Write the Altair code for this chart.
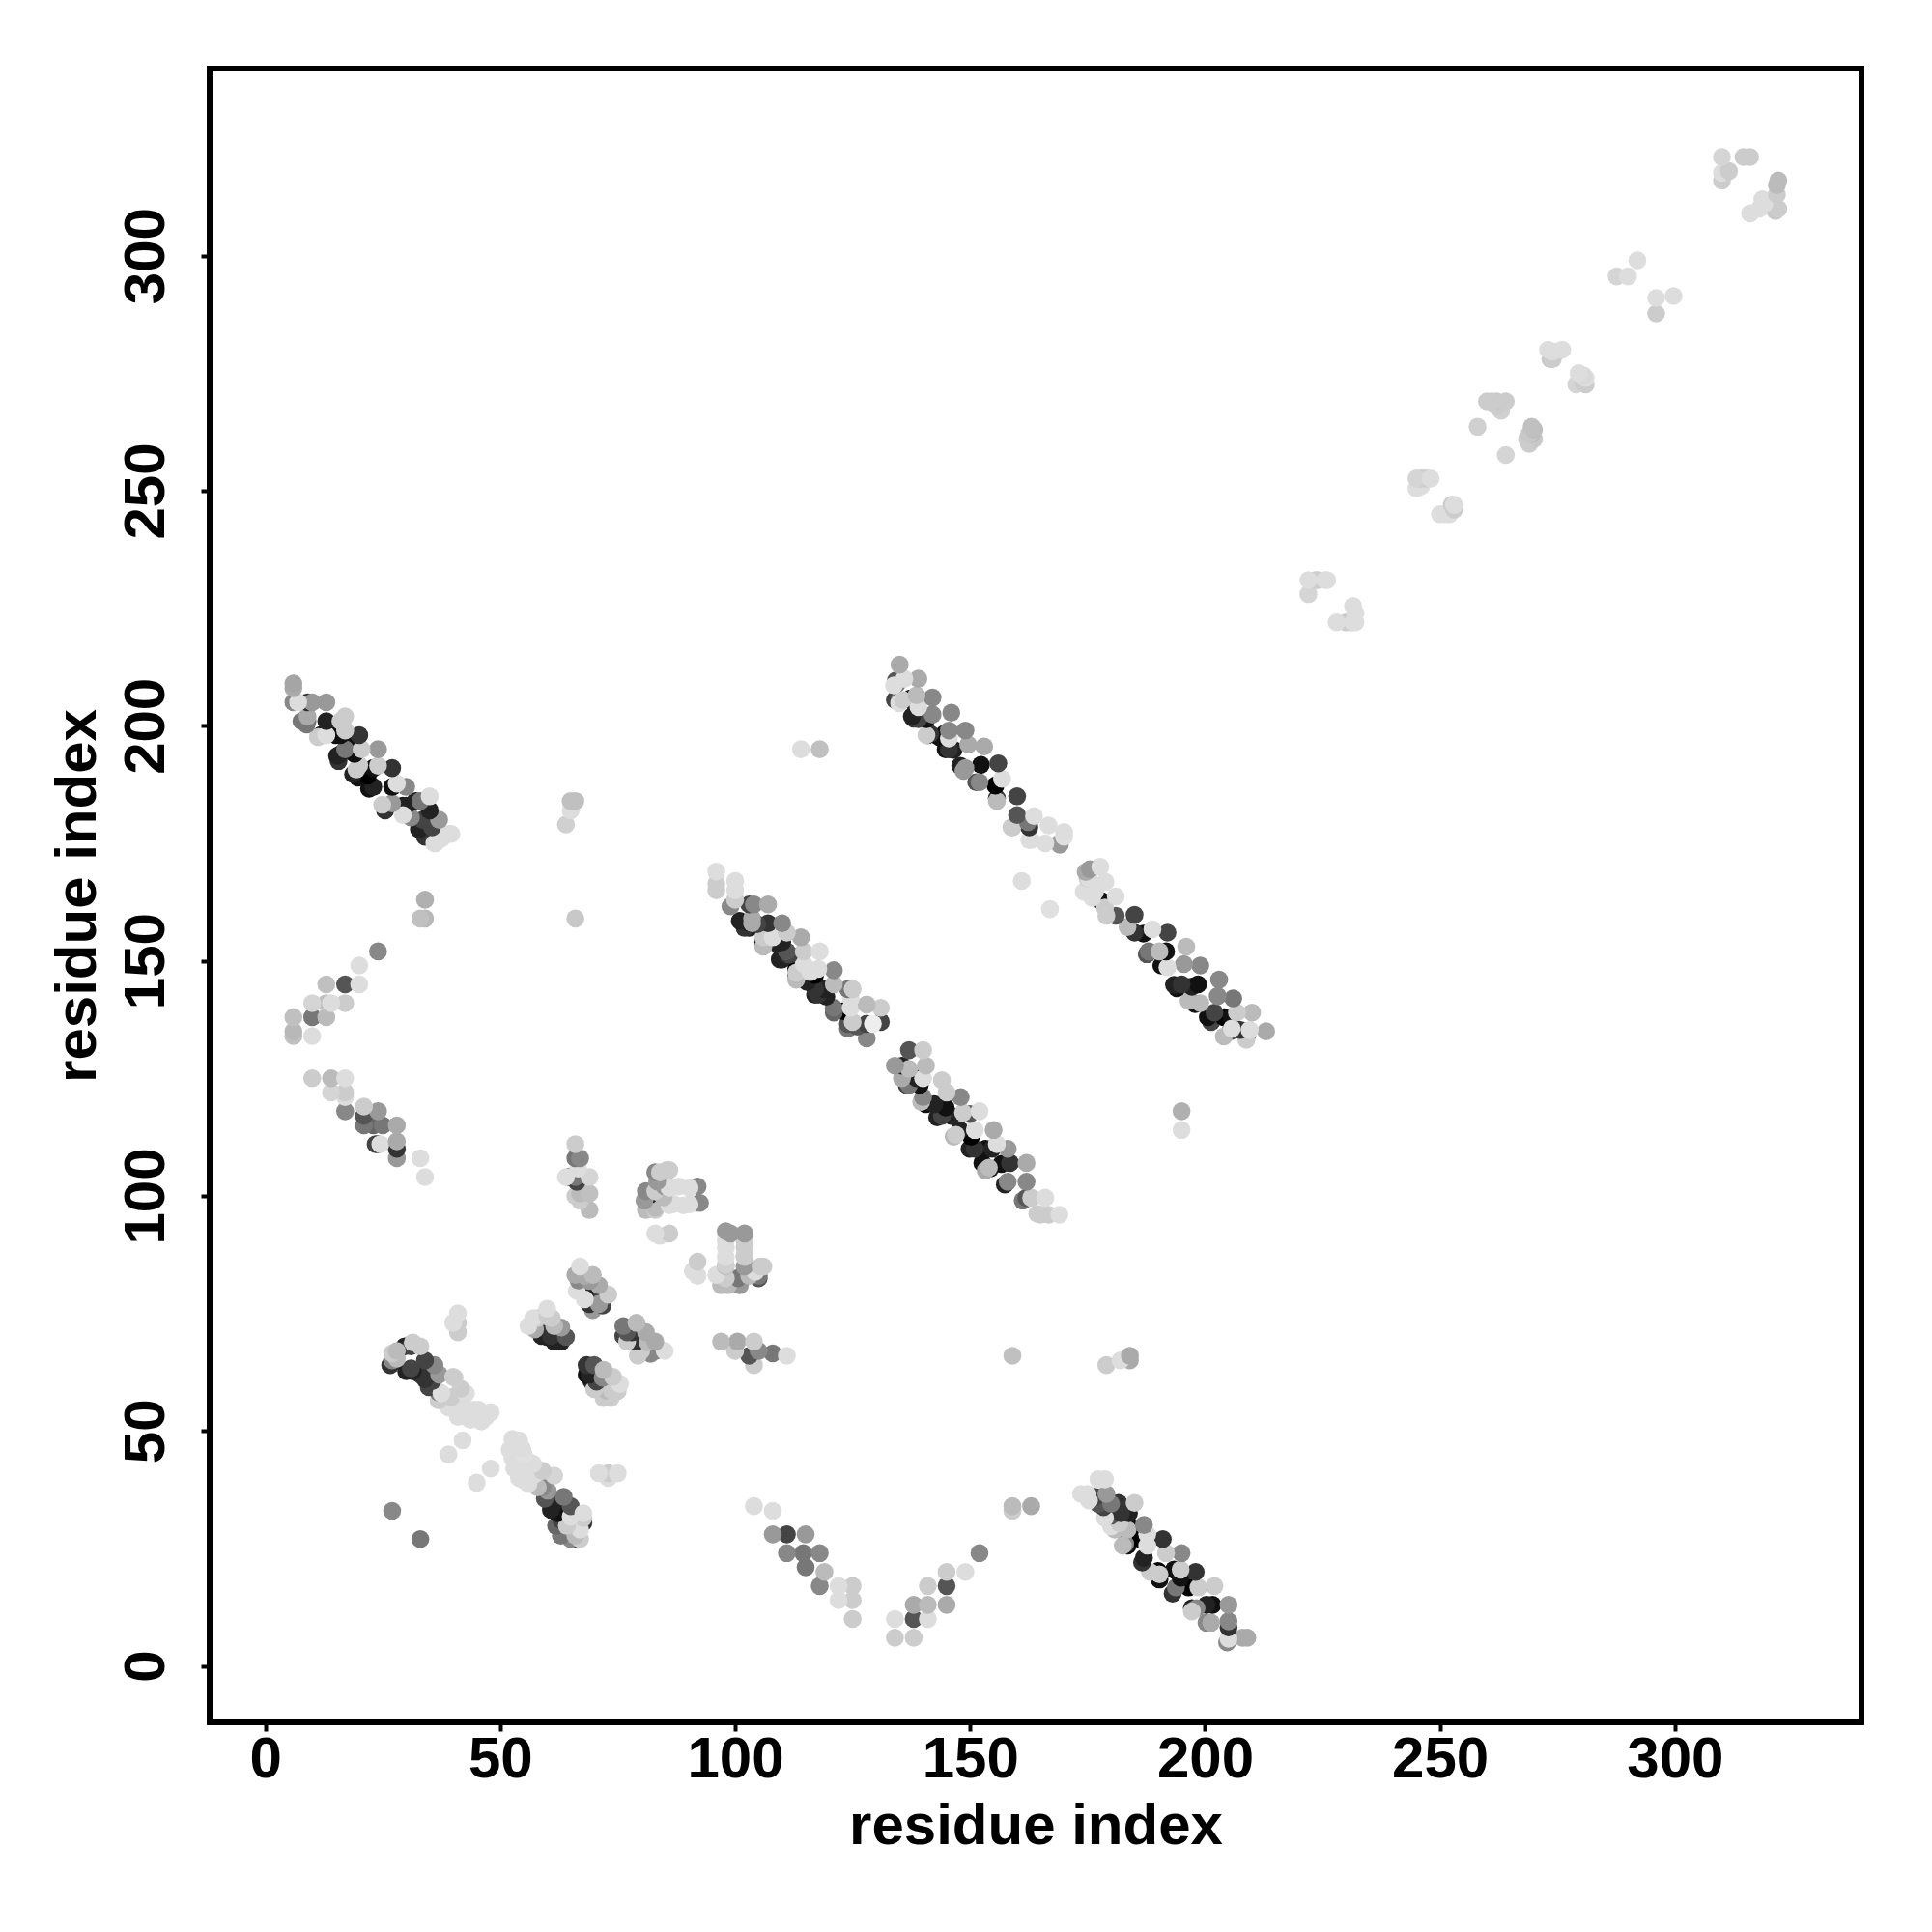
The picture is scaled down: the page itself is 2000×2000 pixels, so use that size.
import altair as alt
import pandas as pd

# (residue x, residue y, grey level 0-255), cluster by cluster
band_a = [(6,209,165),(6,208,170),(6,205,136),(7,205,221),(9,205,51),(10,205,153),(13,205,153),(9,201,119),(9,202,170),
          (13,201,34),(17,202,204),(16,201,204),(12,198,34),(13,198,221),(20,198,51),(16,198,17),(17,199,204),
          (16,194,34),(17,195,119),(19,194,17),(20.5,195,204),(24,195,153),(20,191,17),(20,191.6,204),(23,191,17),
          (24,191.5,204),(27,191,51),(23,187,34),(27,187,17),(28,187.7,221),(30,187,136),(26,183,51),(27,183.5,153),
          (30,183,34),(33,184,119),(35,185,221),(35,182,34),(37,180,153),(33.5,180,68),(39,177,221),(39.6,177,221),
          (37.5,176,221),(36,175,221),
          (7.7,201,119),(8.8,200.3,119),(11.2,197.6,204),(11.8,198,0),(15.3,193.6,34),(15.6,192.5,51),(15,198,17),
          (17.7,196,17),(18.7,189.7,34),(19.7,189,17),(19.4,190.7,204),(22.1,186.6,17),(21.8,189.4,0),(24.9,183.2,204),
          (25.5,182,51),(29.3,181,221),(29.3,183,17),(31,180.5,136),(32.7,178,34),(34,176.4,51),(35.5,178.4,68),
          (36.2,175,221),(32,184,34)]
band_b = [(10,125,204),(14,125,187),(17,125,221),(14,122,213),(17,122,204),(17,121,221),(17,118,136),(21,119,204),
          (21,117,85),(24,118,153),(21,115,119),(25,115,119),(28,115,170),(23,115,102),(24,111,68),(24.5,111,221),
          (28,111.6,170),(28,110,51),(28,108,153),(33,108,221),(34,104,221),(23.5,111,68)]
sparse_left = [(34,163,176),(33,159,192),(34,159,184),(66,159,200),(65,184,192),(66,184,192),(65,182,221),(64,179,208),
               (24,152,136),(20,149,221),(17,145,85),(20,145,221),(13,145,192),(17,141,204),(13,141,192),(14,141,221),
               (10,141,213),(10,138,119),(13,138,187),(6,138,192),(6,135,184),(6,134,192),(10,134,221)]
block_a = [(66,111,204),(67,108,136),(66,108,119),(64,104,221),(66,104,119),(69,104,213),(67,100.5,187),(69,100.5,192),
           (66,100,204),(69,97,187),(64.6,104,51),(66.3,103,68),(66.6,105.8,221),(67,99,204)]
block_b = [(85.5,105.5,204),(86,105.5,204),(83,105,136),(84,105,204),(81,101,136),(85,102,153),(88,102,221),(92,102,136),
           (83,101,204),(92.5,98.5,136),(81,97,187),(83,97.5,187),(86,98,221),(89,98,221),(83,97,204),
           (83,92,221),(84,91.5,221),(86,92,204),(82,100.3,34),(83.4,103.1,153),(84.8,99.7,187),(86,101.7,221),
           (86.9,98.3,221),(90.3,101.7,221),(90.3,98.2,221),(80.7,99,153)]
block_c = [(92,86,204),(91,84,221),(92,83,221),(98,92.5,153),(99,92,153),(102,92,153),(98,89,221),(98,87,221),(98,85,192),
           (97,81,187),(98.5,81,187),(102,89,204),(102,87,204),(102,85,153),(101,81,153),(105,83,119),(106,85,204),
           (105.4,85,204),(103,83,187),(97,82.5,187),(98,85.3,208),(100.6,82.5,119),(100.6,81.2,153),(102,90.4,204),
           (98,90.4,221),(102,87.3,204),(103.3,84.2,187),(105,82.5,85),(96,83.2,221),(98,82.5,204),(104.3,83.9,221)]
block_d = [(67,85,221),(68,83,170),(66.7,82,136),(71,81,170),(73,79,204),(70.4,78,68),(71,77,153),(68,79,34),(68,78,221),
           (66,83.2,170),(66.3,79.8,221),(67.7,79.1,34),(69,77,51),(69.7,75.7,153),(71.8,76.7,68),(69,81.9,153),(69.7,83.2,187)]
block_e = [(57,74,221),(58,74,204),(60,76,221),(61,74,204),(63,72,153),(59,72.5,51),(64,70,85),(61.5,69,34),(60,70,34),(63,69,34),
           (56,72.3,221),(57.4,71.6,170),(58.8,70.2,34),(60.8,70.2,51),(61.5,72.3,187),(60.1,74.3,204)]
block_f = [(79,73,187),(77,71,85),(81,71,170),(83,69,170),(79,69,51),(80,67,204),(83,67,136),(85,67,221),(77,69,204),
           (76.2,72.3,119),(76.2,70.2,68),(78,71,51),(79.7,67.5,34),(81.4,68.8,187),(82,66.4,136),(79.3,66,204)]
block_g = [(70,64,85),(69,62,34),(72,63,187),(74,61.5,204),(75.5,60,221),(70.5,60.5,68),(72,57,204),(73.5,57,204),(75,58.5,204),
           (68.4,64,51),(68.4,62,17),(69.4,60.6,34),(71,60,51),(70,58.9,204),(71.8,61.3,136),(72.5,58.6,187),(73.8,58.6,204)]
block_h = [(97,69,187),(100.5,69,170),(100,67,204),(104,69,204),(105,67,136),(104,64,204),(108,66.5,119),(111,66,221),(103,66,85)]
band_c = [(27,65,136),(27,66.5,204),(28,67,187),(31,68,68),(33,68,204),(31,63.3,68),(34,65,68),(36,64,136),(37,62,153),
          (34,61,51),(40,61.5,204),(41.6,59,204),(42.7,58,221),(37.5,58,221),(39,55,221),(41,53,221),(44.4,54.5,221),
          (46,52,221),(48,54,221),(47,53,221),(42.7,53,221),(41,75,221),(41,73,204),(40,73,221),(41,71,204),
          (42,48,221),(39,45,221),(48,42,221),(45,39,221),
          (26.6,64,51),(29.7,68,34),(30,62.7,34),(31.4,62.7,34),(33,62,51),(34.8,59.3,68),(35.5,60.6,68),(36.9,58.2,119),
          (36.9,56.5,204),(38.6,55.8,221),(39.6,57.2,204),(40.6,54.5,221),(42.3,55.1,221),(43.7,52.4,221),(45.4,54.5,221),
          (46.4,52.7,221),(40.3,61.3,208),(28,65.4,187),(31.4,68.8,204)]
band_d = [(54,48,221),(52,46,221),(55,45,224),(53,42,221),(57,43,221),(55,39.5,221),(59,41.5,204),(61.5,40.5,213),
          (59,38,136),(63.5,36,119),(65,34,85),(61.5,34.5,34),(63,31,68),(67.7,32.5,221),(67.7,30.5,51),(67.7,31.5,204),
          (67,29,221),(65,27,136),(67,27,204),(65.5,27,51),(71,41,221),(73,40,221),(73,41,204),(75,41,221),
          (27,33,136),(33,27,119),(104,34,221),(108,33,221),
          (52.6,48.3,221),(54.7,46.2,221),(52.6,44.2,221),(54.7,42.1,221),(54,40,221),(56,38.7,221),(56,43.5,221),
          (57.4,40.8,221),(58,38,187),(60.1,37.3,153),(59.5,35.6,85),(60.8,33.2,34),(62.2,32.5,17),(61.9,29.8,102),
          (62.9,27.7,119),(64.2,29.8,204),(65,31.8,221),(66,27.7,187),(65.6,29,187)]
vee = [(108,28,153),(111,28,68),(115,28,153),(111,24,136),(114.5,24,119),(118,24,136),(115,21,119),(119,20,187),
       (118,17,136),(122,17,221),(125,17,204),(122,14,221),(125,14,204),(125,10,204),(134,10,221),(134,6,204),
       (138,6,204),(138,10,85),(138,13,170),(141,10,221),(141,13,187),(141,17,204),(145,13,170),(145,17,85),
       (145,20,204),(149,20,221),(152,24,136),(159,33,204),(159,34,187),(163,34,170)]
sparse_mid = [(159,66,192),(179,64,204),(182,65,221),(184,65,170),(184,66,170),(114,195,221),(118,195,192),
              (161,167,221),(167,161,224),(195,118,176),(195,114,221)]
band_e = [(96,169,221),(96,166.4,204),(96,165,204),(100,167,221),(100,165,221),(100,163,204),(99,161.6,136),(103,162,68),
          (104,162,136),(107,162,170),(103,158,34),(103.6,158,170),(107,158,51),(110,158,136),(111,156,204),(106,154,34),
          (106,155,204),(114,155,170),(110,154,34),(110,151,34),(113.6,151,17),(114.6,152,204),(118,152,221),(113,147,51),
          (116,147.6,221),(117,144,51),(121,148,136),(119,144,34),(121,145,187),(124,144,119),(125,144,204),(121,140,119),
          (124.6,140,221),(128,140.7,187),(131,140,204),(124,136.6,85),(128,136.6,68),(125,137,204),(131,137,68),(128,133.5,136),
          (103,157,34),(103.6,159,170),(106,153,187),(106,153.5,34),(108,155,221),(110,150.3,34),(111,152,85),(113,147.5,204),
          (113,146,187),(113,148.3,0),(114.6,149.3,221),(117,142.8,34),(117.7,148.3,221),(117,147,0),(121,139,102),(123,139.3,0),
          (124.6,142,221),(124,135.6,119),(126,136,85),(129.3,136.6,238),(101,158.5,34),(102,157,51),(104.7,157.8,68),
          (108.8,153.7,34),(109.5,150.3,34),(111.5,151.3,68),(115.3,145.5,34),(117.7,142.8,51),(119.4,142.4,34)]
band_f = [(137,131,85),(140,131,204),(134,127.7,153),(137,127,187),(140.6,127.7,187),(137,123.6,119),(140,125,221),
          (144,124.6,204),(140,121,136),(145,122,204),(148,121,136),(144,117,68),(146,117,34),(148.5,117.7,204),(152,118,221),
          (147,113,204),(151,114,221),(155,114,170),(151,110,51),(154.7,110,34),(155.7,111,221),(158,110,153),(154,106,187),
          (158.5,107,51),(162,107,170),(158,103,136),(162,103,136),(162,99.6,85),(163,99.6,204),(166,99.6,221),(165,96,204),
          (166.7,96,204),(169,96,221),
          (135.5,127.7,34),(136.5,123.6,68),(135.5,125,170),(138.6,125,34),(139.3,123.6,17),(139.6,120,187),(140.6,119.5,17),
          (142.4,119.5,34),(143,116.7,34),(144.8,118.8,17),(146.5,112.6,187),(147.8,114,34),(149.9,117.4,85),(150.2,112.6,0),
          (149.9,110,34),(153.3,110,17),(152.6,107,17),(153.3,105.4,170),(154.3,105.8,34),(156.7,106.8,17),(157.4,102.4,34),
          (161.2,99,119),(164.3,96.2,204)]
band_g = [(135,213,170),(134.5,209,119),(136,210,221),(139,210,170),(135,205.5,119),(135.7,205.5,204),(138.6,206.5,187),
          (138.3,204.5,34),(142,206,136),(138,201.5,51),(142,202.4,136),(146,202.8,136),(141.5,198.3,51),(145.5,199,136),
          (149,199,136),(145.5,195,51),(149.6,196,170),(153,195.6,170),(149,191,153),(152.3,191.7,17),(156,192,68),
          (152,188,136),(156.8,188.7,221),(155.7,184.6,51),(160,185,68),(160,181,85),(159,178.4,187),(163.6,180.8,221),
          (162.6,178.4,51),(163,175.7,221),(166.7,178.8,221),(166,175,221),(169,175,153),(170,177.4,221),(170,176.4,224),
          (134.2,209.6,85),(133.8,208.6,221),(134,205.5,68),(134.9,204.8,221),(137.3,205.8,17),(137.6,202,34),(139,201.4,68),
          (140.7,201.4,17),(139,204,221),(141,198,17),(140.7,198,204),(144.8,195,17),(144.5,198.3,17),(143.4,197.6,17),
          (146.5,194.9,34),(145.5,197.3,221),(147.9,191.5,34),(148.6,190.4,153),(151.3,188,85),(155.4,187.3,0),(155.7,184,187),
          (162.3,179.5,119),(158.8,178.4,204),(162.6,175.7,221),(169.1,174.7,153)]
band_h = [(175.5,169.5,153),(177.7,170,221),(175,167.5,204),(178.8,166.8,221),(176,163.4,221),(181,163.7,221),(179,159.6,204),
          (181,159.6,85),(185,159.8,68),(185,156,51),(188.8,156.7,221),(192,156,68),(188,152,119),(191.7,152,17),(196,153,187),
          (192,148.6,221),(195.5,149.3,153),(195,145,51),(199,149,136),(198.5,145,17),(203,146,136),(199,141,187),
          (202.7,142.5,136),(202,139,68),(206,142,119),(205.7,138,17),(206.8,139,204),(210,139,187),(205.4,135,85),
          (205.7,135.6,221),(209.5,135.3,221),(209,134.3,85),(213,135,170),
          (174.6,168.9,170),(174.2,164.7,221),(175.3,167.5,221),(176.6,164.7,221),(178,162.7,17),(178.7,161.3,204),
          (183.5,157.2,187),(186.9,155.8,17),(187.6,151.4,85),(190.7,149,17),(190.3,152,187),(193.4,144.9,34),(194,144.2,17),
          (197.2,144.5,34),(196.5,141.5,187),(197.9,140.8,17),(200.6,138,17),(201.3,137,68),(204,138,0),(204,133.9,187),
          (208.8,133.2,204),(207.5,135.3,51)]
band_i = [(177.3,39.7,221),(175,36.6,221),(178.7,39.7,221),(179,36.6,153),(177.3,34.5,85),(181.6,34.7,51),(185,34.7,204),
          (180,32,85),(183.8,32.5,34),(180,29.7,221),(183.5,29,187),(187,30,136),(183,26,136),(187.7,28,221),(191,27,51),
          (187,23,34),(187.7,25.6,221),(191.7,24,204),(195,24,136),(190.3,19.5,204),(194.8,20.5,204),(193.8,16.7,119),
          (198,20,51),(194.8,18.8,17),(198.6,16.7,204),(202,17,204),(198.2,12.3,136),(201.6,13,17),(205,13,153),
          (201.3,9.2,170),(205,9.5,136),(205,5.8,221),(208,6,170),(209,6,170),
          (173.6,36.6,221),(176.6,36,68),(178.4,33.8,68),(180,34.5,119),(182.1,32.5,51),(183.8,29.7,17),(181.8,30.4,204),
          (180.8,29,187),(182.5,25.6,187),(183.5,25.6,17),(186.2,27,0),(186.6,22,51),(188.3,20,204),(190.3,18.4,17),
          (190,20.2,0),(193.1,15.4,51),(193.4,20.5,17),(196.5,16.7,0),(197.2,11.6,204),(197.2,12.3,34),(200.3,13,34),
          (200.3,9.2,136),(205,8.2,51),(204.7,5,136),(175.3,35.2,221),(178.7,31.5,221)]
pale = [(222,231,221),(223.5,231,204),(225.5,231,221),(222,228,213),(228,222,221),(231.5,225.5,221),(231.5,222,221),(231,222,204),
        (245,252.6,213),(247,252.6,204),(245,250.5,221),(252,245,221),(252.5,247,204),(250,245,221),
        (258,263.6,208),(260,269,204),(261,269,204),(262,269,200),(264,269,204),(264,257.6,213),(269,260,204),(269.5,262,187),(269.5,263.6,192),
        (274,279.6,221),(275,279.6,204),(273.5,278,200),(280.5,273,204),(279,272.6,213),(280.5,274.5,216),
        (287.6,295.6,213),(290,295.6,221),(292,299,221),(296,287.7,204),(296,291,221),(299.7,291.4,221),
        (310,321,213),(310,316,204),(310,317.6,221),(311.5,318,204),(314.6,321,204),(316,321,204),(316,309,221),(318,310,221),
        (318.6,312,221),(321.7,315,187),(321.7,313,204),(321.4,309.5,200),
        (262,268,204),(263,267,208),(268.5,261,204),(269,262,200),(270,263,190),(270,261,200),(273,280,221),(276,280,221),
        (274,278,204),(279.5,275,221),(281,274,221),(281,272.6,204),(224,231,204),(226,231,221),(232,224,221),(232,222,221),
        (230,222,204),(246,252.6,204),(248,252.6,221),(246,251,221),(251,245,221),(253,246,204),(253,247,221),
        (319,311,221),(322,316,187),(322,310,204)]

clusters = [band_a, band_b, sparse_left, block_a, block_b, block_c, block_d, block_e, block_f, block_g, block_h,
            band_c, band_d, vee, sparse_mid, band_e, band_f, band_g, band_h, band_i, pale]
tick_values = [0, 50, 100, 150, 200, 250, 300]

rows = [r for c in clusters for r in c]
df = pd.DataFrame(rows, columns=["x", "y", "grey"])
# Paler points sit over darker ones nearby, so the dark ones show as crescents below them.
df["draw"] = df["y"] + df["grey"] / 255 * 3
df = df.sort_values(["draw", "x"])
df["colour"] = [f"#{int(g):02x}{int(g):02x}{int(g):02x}" for g in df["grey"]]

FONT = "Liberation Sans"
chart = alt.Chart(df).mark_circle(size=345, opacity=1).encode(
    x=alt.X("x:Q", scale=alt.Scale(domain=[-11.84, 339.7], nice=False, zero=False),
            axis=alt.Axis(values=tick_values, title="residue index", grid=False, domain=False,
                          tickSize=9, tickWidth=4, tickColor="black", labelFontSize=60, labelFont=FONT,
                          labelFontWeight="bold", labelColor="black", labelPadding=0, titleFontSize=60,
                          titleFont=FONT, titleFontWeight="bold", titleColor="black", titlePadding=10,
                          labelFlush=False, labelOverlap=False)),
    y=alt.Y("y:Q", scale=alt.Scale(domain=[-12.0, 339.8], nice=False, zero=False),
            axis=alt.Axis(values=tick_values, title="residue index", grid=False, domain=False,
                          tickSize=9, tickWidth=4, tickColor="black", labelFontSize=60, labelFont=FONT,
                          labelFontWeight="bold", labelColor="black", labelAngle=270, labelAlign="center",
                          labelBaseline="bottom", labelPadding=26, titleFontSize=60, titleFont=FONT,
                          titleFontWeight="bold", titleColor="black", titlePadding=10,
                          labelFlush=False, labelOverlap=False)),
    color=alt.Color("colour:N", scale=None),
).properties(
    width=1710, height=1712,
    background="white",
    autosize=alt.AutoSizeParams(type="none"),
    padding={"left": 209, "top": 63, "right": 60, "bottom": 200},
).configure_view(stroke="black", strokeWidth=6, fill="white")

chart.save("out.html", embed_options={"renderer": "svg", "actions": False})
